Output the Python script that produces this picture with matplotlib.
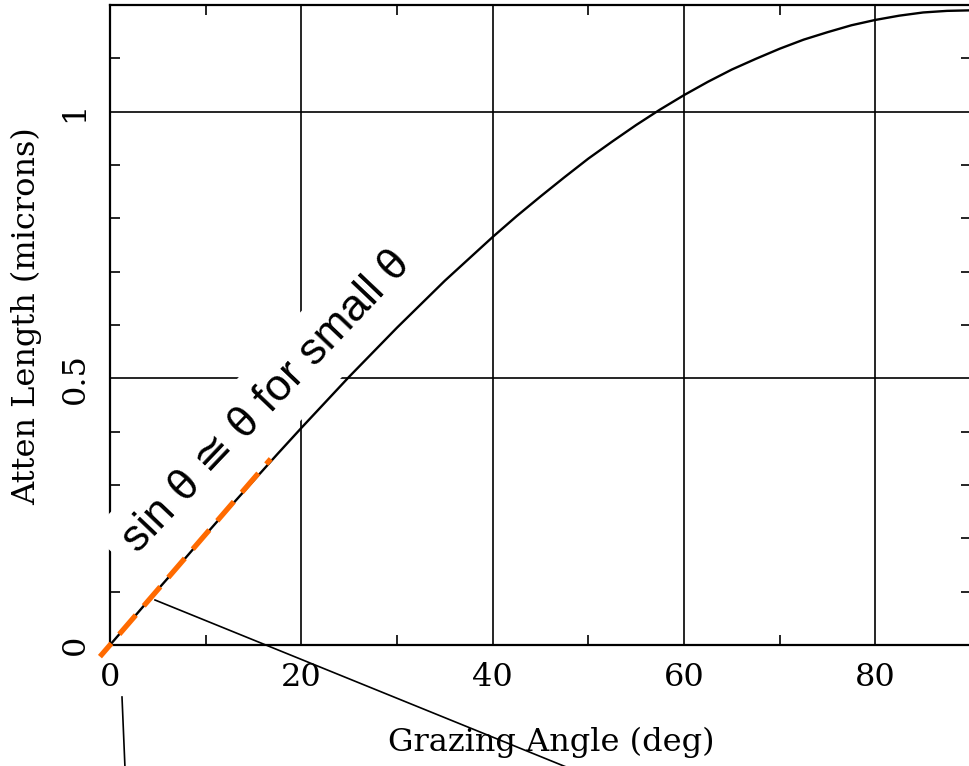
import numpy as np
import matplotlib
matplotlib.use("Agg")
import matplotlib.pyplot as plt
from matplotlib.lines import Line2D
from matplotlib.ticker import MultipleLocator

# Data
angle_deg = [0, 2.5, 5, 7.5, 10, 12.5, 15, 17.5, 20, 22.5, 25, 27.5, 30, 32.5, 35, 37.5,
             40, 42.5, 45, 47.5, 50, 52.5, 55, 57.5, 60, 62.5, 65, 67.5, 70, 72.5, 75,
             77.5, 80, 82.5, 85, 87.5, 90]
atten_len = [0.0, 0.052, 0.104, 0.155, 0.207, 0.258, 0.308, 0.358, 0.407, 0.455, 0.503,
             0.549, 0.595, 0.639, 0.683, 0.724, 0.765, 0.804, 0.841, 0.877, 0.912, 0.944,
             0.975, 1.004, 1.031, 1.056, 1.079, 1.099, 1.118, 1.135, 1.149, 1.162, 1.172,
             1.180, 1.186, 1.189, 1.190]
approx_x = [-1.05, 16.8]
approx_y = [-0.0218, 0.349]
xticks = [0, 20, 40, 60, 80]
yticks = [0, 0.5, 1]
yticklabels = ["0", "0.5", "1"]

W, H = 970, 766
fig = plt.figure(figsize=(W / 100, H / 100), dpi=100)
ax = fig.add_axes([110 / W, 1 - 645 / H, 861 / W, 640 / H])

tfont = dict(family="DejaVu Serif", size=23)

ax.set_xlim(0, 90)
ax.set_ylim(0, 1.2)
ax.set_axisbelow(True)
ax.grid(True, which="major", color="black", linewidth=1.2)

ax.plot(angle_deg, atten_len, color="black", linewidth=1.7, zorder=3)
ax.plot(approx_x, approx_y, color="#ff6a00", linewidth=3.8,
        linestyle=(1.5, (4.8, 2.3)), clip_on=False, zorder=3.5, solid_capstyle="butt")

ax.set_xticks(xticks)
ax.set_xticklabels([str(v) for v in xticks], **tfont)
ax.set_yticks(yticks)
ax.set_yticklabels(yticklabels, rotation=90, va="center", **tfont)
ax.xaxis.set_minor_locator(MultipleLocator(10))
ax.yaxis.set_minor_locator(MultipleLocator(0.1))
ax.tick_params(which="major", length=0, pad=12)
ax.tick_params(axis="y", which="major", pad=14)
ax.tick_params(which="minor", direction="in", length=7, width=1.2,
               top=True, right=True, bottom=True, left=True)
for s in ax.spines.values():
    s.set_linewidth(1.6)

ax.set_xlabel("Grazing Angle (deg)", va="center", ha="center", **tfont)
ax.xaxis.set_label_coords((551 - 110) / 861, -(742 - 645) / 640)
ax.set_ylabel("Atten Length (microns)", va="center", ha="center", **tfont)
ax.yaxis.set_label_coords((27 - 110) / 861, (645 - 316) / 640)

ax.text(16.4, 0.456, "sin θ ≅ θ for small θ", rotation=46.5, rotation_mode="anchor",
        ha="center", va="center", fontsize=32,
        family=["Liberation Sans", "DejaVu Sans"],
        bbox=dict(facecolor="white", edgecolor="none", pad=12),
        clip_on=False, zorder=2.7)

# annotation leader lines running off the picture
fig.add_artist(Line2D([155 / W, 650 / W], [1 - 600 / H, 1 - 801 / H],
                      transform=fig.transFigure, color="black", linewidth=1.2))
fig.add_artist(Line2D([122 / W, 125.5 / W], [1 - 697 / H, 1 - 780 / H],
                      transform=fig.transFigure, color="black", linewidth=1.2))

fig.savefig("out.png", dpi=100)
